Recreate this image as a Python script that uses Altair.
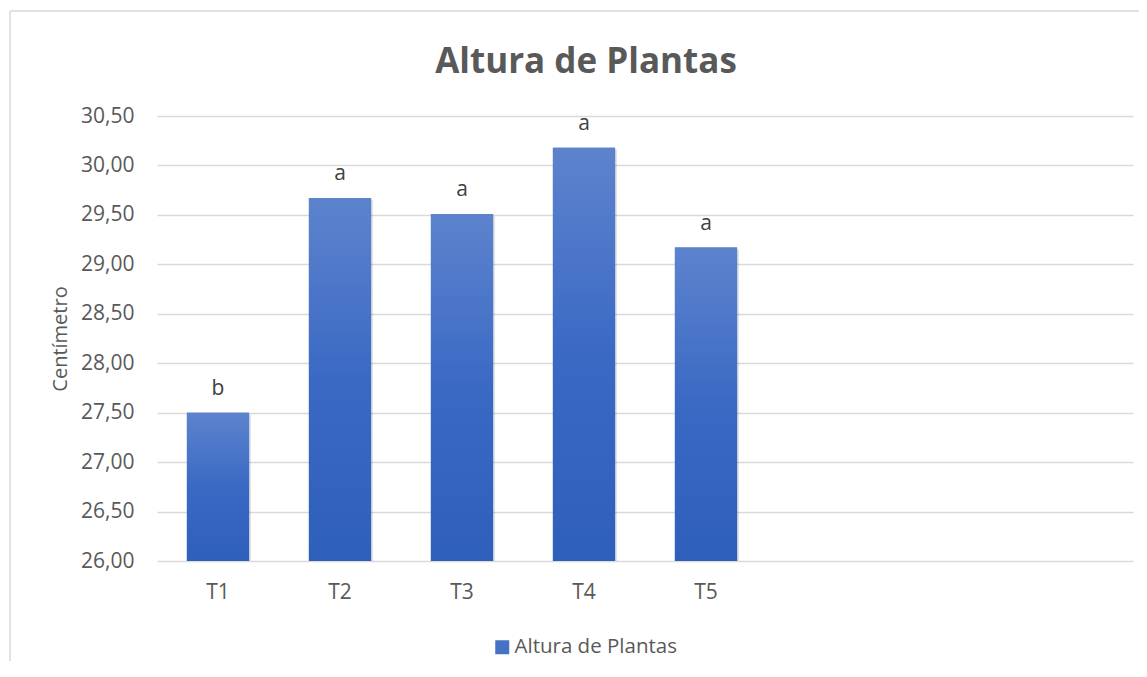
import altair as alt
import pandas as pd

categorias = ["T1", "T2", "T3", "T4", "T5"]
valores = [27.50, 29.67, 29.51, 30.18, 29.17]
letras = ["b", "a", "a", "a", "a"]
serie = "Altura de Plantas"
slots_vacios = ["_6", "_7", "_8"]
y_ticks = [26.0, 26.5, 27.0, 27.5, 28.0, 28.5, 29.0, 29.5, 30.0, 30.5]
y_base = 26.0

df = pd.DataFrame({"categoria": categorias, "valor": valores, "letra": letras,
                   "serie": [serie] * len(categorias), "base": [y_base] * len(categorias)})

FONT = "Open Sans"
TXT = "#595959"
GRID = "#d9d9d9"

x_enc = alt.X("categoria:N", sort=None,
              scale=alt.Scale(domain=categorias + slots_vacios, paddingInner=0.49, paddingOuter=0.245),
              axis=alt.Axis(title=None, labelAngle=0, domain=False, ticks=False, labelPadding=20,
                            labelFont=FONT, labelFontSize=21, labelColor=TXT,
                            labelExpr="indexof(datum.label, '_') == 0 ? '' : datum.label"))
y_enc = alt.Y("valor:Q",
              scale=alt.Scale(domain=[y_ticks[0], y_ticks[-1]], zero=False, nice=False),
              axis=alt.Axis(title="Centímetro", values=y_ticks, grid=True, gridColor=GRID, gridWidth=1.3,
                            domain=False, ticks=False, labelPadding=23, labelFont=FONT, labelFontSize=21,
                            labelColor=TXT, titleFont=FONT, titleFontSize=20, titleFontWeight="normal",
                            titleColor=TXT, titlePadding=10,
                            labelExpr="replace(format(datum.value, '.2f'), '.', ',')"))

base = alt.Chart(df)

sombra = base.mark_bar(color="#000000", opacity=0.10, xOffset=2, yOffset=2).encode(
    x=x_enc, y=y_enc, y2="base:Q")

solido = base.mark_bar().encode(
    x=x_enc, y=y_enc, y2="base:Q",
    color=alt.Color("serie:N", scale=alt.Scale(range=["#4472c4"]),
                    legend=alt.Legend(title=None, orient="none", legendX=335, legendY=521,
                                      symbolType="square", symbolSize=196, symbolStrokeWidth=0,
                                      labelFont=FONT, labelFontSize=20.5, labelColor=TXT,
                                      labelOffset=2, labelLimit=0, padding=0)))

gradiente = base.mark_bar(
    color=alt.Gradient(gradient="linear", x1=0, y1=0, x2=0, y2=1,
                       stops=[alt.GradientStop(color="#5d83cd", offset=0),
                              alt.GradientStop(color="#3a69c4", offset=0.5),
                              alt.GradientStop(color="#2e5fbb", offset=1)])
).encode(x=x_enc, y=y_enc, y2="base:Q")

etiquetas = base.mark_text(baseline="alphabetic", dy=-18, font=FONT, fontSize=21, color="#404040").encode(
    x=x_enc, y="valor:Q", text="letra:N")

borde_sup = alt.Chart(pd.DataFrame({"k": [0]})).mark_rule(color=GRID, strokeWidth=1.5).encode(
    x=alt.value(-147), x2=alt.value(985), y=alt.value(-105))
borde_izq = alt.Chart(pd.DataFrame({"k": [0]})).mark_rule(color=GRID, strokeWidth=1.5).encode(
    x=alt.value(-147), y=alt.value(-105), y2=alt.value(545))

chart = alt.layer(borde_sup, borde_izq, sombra, solido, gradiente, etiquetas).properties(
    width=976, height=445,
    title=alt.Title("Altura de Plantas", font=FONT, fontSize=35, fontWeight="bold", color=TXT,
                    anchor="middle", frame="group", dx=-59, dy=108, baseline="alphabetic", offset=10),
    autosize=alt.AutoSizeParams(type="none"),
    padding={"left": 149, "top": 108, "right": 6, "bottom": 100},
).configure(background="white").configure_view(stroke=None)

chart.save("out.html", embed_options={"renderer": "svg", "actions": False})
